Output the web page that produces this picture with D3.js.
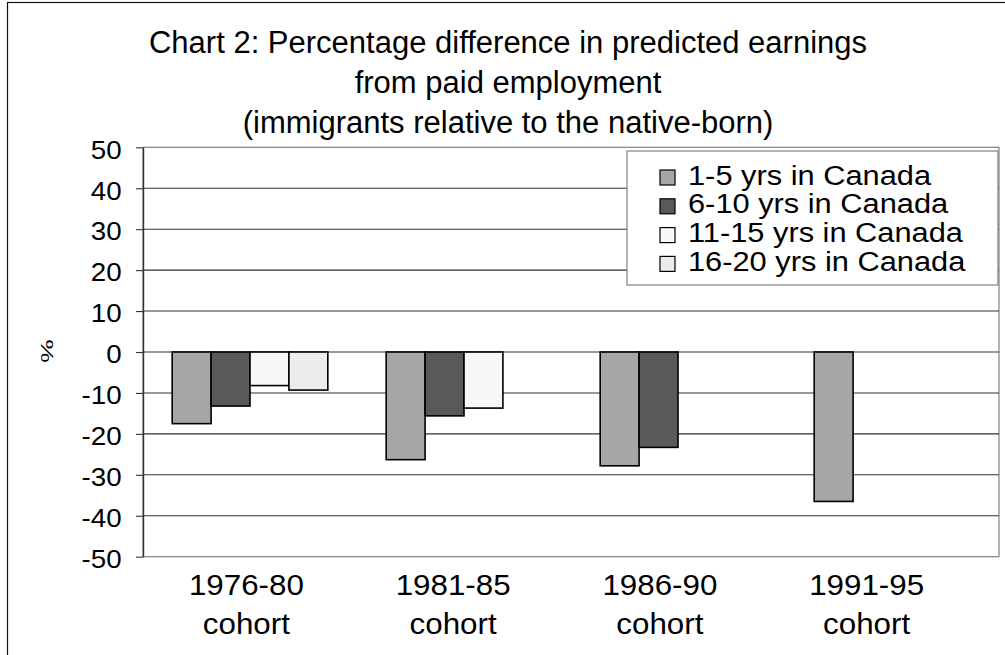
<!DOCTYPE html>
<html><head><meta charset="utf-8">
<script src="https://cdn.jsdelivr.net/npm/d3@7"></script>
<style>
body{margin:0;background:#fff;overflow:hidden}
text{font-family:"Liberation Sans",Arial,sans-serif;fill:#000}
</style>
</head><body>
<svg id="c" width="1005" height="655"></svg>
<script>
// ---- data ----
const categories = ["1976-80 cohort","1981-85 cohort","1986-90 cohort","1991-95 cohort"];
const catLine1 = ["1976-80","1981-85","1986-90","1991-95"];
const catLine2 = ["cohort","cohort","cohort","cohort"];
const seriesNames = ["1-5 yrs in Canada","6-10 yrs in Canada","11-15 yrs in Canada","16-20 yrs in Canada"];
const yrs1to5   = [-17.5, -26.3, -27.8, -36.5];
const yrs6to10  = [-13.2, -15.6, -23.3, null];
const yrs11to15 = [-8.2, -13.7, null, null];
const yrs16to20 = [-9.3, null, null, null];
const yTicks = [-50,-40,-30,-20,-10,0,10,20,30,40,50];
const titleLines = ["Chart 2: Percentage difference in predicted earnings","from paid employment","(immigrants relative to the native-born)"];
const yLabel = "%";
const seriesColors = ["#a6a6a6","#595959","#f8f8f8","#ececec"];

const seriesValues = [yrs1to5, yrs6to10, yrs11to15, yrs16to20];

const svg = d3.select("#c");
const L = 143, R = 999, T = 147.3, B = 556.7;

// outer frame
svg.append("rect").attr("x",7.5).attr("y",2.5).attr("width",1100).attr("height",800)
  .attr("fill","none").attr("stroke","#111").attr("stroke-width",1.2);

// title
const title = svg.append("g");
titleLines.forEach((t,i)=>{
  title.append("text").attr("x",508).attr("y",52.5 + i*40)
    .attr("text-anchor","middle").attr("font-size",31).text(t);
});

// scales
const x0 = d3.scaleBand().domain(categories).range([L,R]).paddingInner(0).paddingOuter(0);
const bw = x0.bandwidth();
const gap = bw*1.5/5.5;
const x1 = d3.scaleBand().domain(seriesNames).range([gap/2, bw-gap/2]);
const y = d3.scaleLinear().domain([-50,50]).range([B,T]);
// category label positions (labels sit on a slightly narrower span than the bars)
const xLab = d3.scaleBand().domain(categories).range([L,970]);

// plot border
svg.append("rect").attr("x",L).attr("y",T).attr("width",R-L).attr("height",B-T)
  .attr("fill","#fff").attr("stroke","#808080").attr("stroke-width",1.2);

// gridlines
svg.append("g").selectAll("line").data(yTicks.filter(v=>v>-50 && v<50)).join("line")
  .attr("x1",L).attr("x2",R).attr("y1",d=>y(d)).attr("y2",d=>y(d))
  .attr("stroke","#333").attr("stroke-width",1.1);

// bars
seriesValues.forEach((vals,si)=>{
  svg.append("g").selectAll("rect").data(vals.map((v,i)=>({v,c:categories[i]})).filter(d=>d.v!==null))
    .join("rect")
    .attr("x",d=>x0(d.c)+x1(seriesNames[si]))
    .attr("width",x1.bandwidth())
    .attr("y",d=>y(Math.max(0,d.v)))
    .attr("height",d=>Math.abs(y(d.v)-y(0)))
    .attr("fill",seriesColors[si]).attr("stroke","#000").attr("stroke-width",1.6);
});

// y axis
const yAxis = svg.append("g").attr("transform",`translate(${L},0)`)
  .call(d3.axisLeft(y).tickValues(yTicks).tickSize(7).tickSizeOuter(0).tickFormat(d=>String(d)));
yAxis.select(".domain").attr("stroke","#333").attr("stroke-width",1.4);
yAxis.selectAll(".tick line").attr("stroke","#333").attr("stroke-width",1.1);
yAxis.selectAll(".tick text")
  .attr("x",0).attr("dy",null).attr("y",0)
  .attr("font-size",25).attr("text-anchor","end")
  .attr("font-family",'"Liberation Sans",Arial,sans-serif')
  .attr("fill","#000")
  .attr("transform","translate(-21.3,10.8) scale(1.11,1)");

// y label
svg.append("text").attr("text-anchor","middle").attr("font-size",22)
  .attr("transform","translate(52.7,351) rotate(-90) scale(1.2,0.75)").text(yLabel);

// category labels
const cg = svg.append("g");
categories.forEach((c,i)=>{
  const cx = xLab(c) + xLab.bandwidth()/2;
  cg.append("text").attr("text-anchor","middle").attr("font-size",29)
    .attr("transform",`translate(${cx},595) scale(1.08,1)`).text(catLine1[i]);
  cg.append("text").attr("text-anchor","middle").attr("font-size",29)
    .attr("transform",`translate(${cx},634) scale(1.08,1)`).text(catLine2[i]);
});

// legend
const lg = svg.append("g");
lg.append("rect").attr("x",627).attr("y",151).attr("width",371).attr("height",134)
  .attr("fill","#fff").attr("stroke","#808080").attr("stroke-width",1.2);
seriesNames.forEach((s,i)=>{
  const by = 184.5 + i*28.8;
  lg.append("rect").attr("x",660).attr("y",by-14.5).attr("width",15).attr("height",15)
    .attr("fill",seriesColors[i]).attr("stroke","#000").attr("stroke-width",1.2);
  lg.append("text").attr("font-size",28)
    .attr("transform",`translate(688,${by}) scale(1.1,1)`).text(s);
});
</script>
</body></html>
